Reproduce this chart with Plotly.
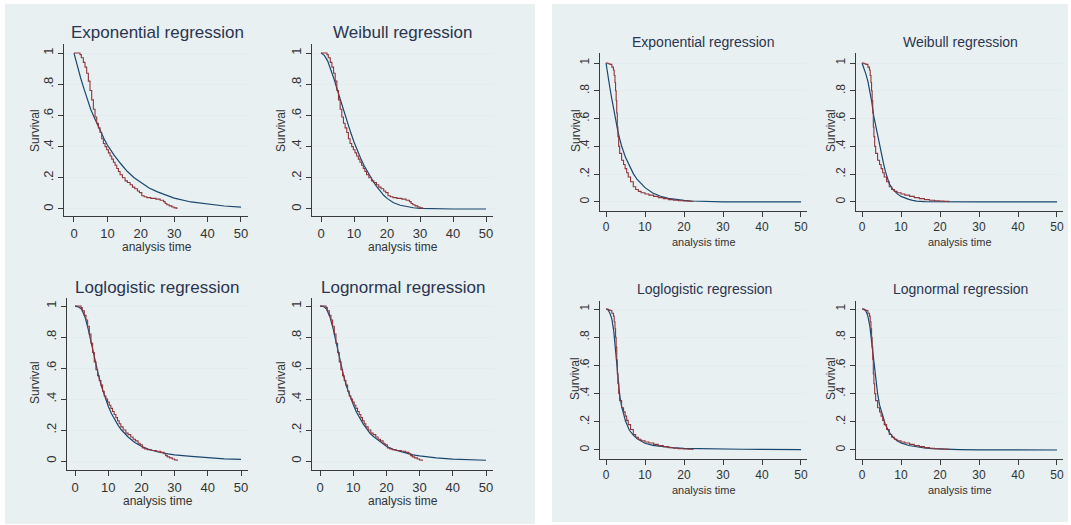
import plotly.graph_objects as go

W, H = 1071, 525

# Kaplan-Meier estimates (red step lines)
km_left_t = [0, 1.8, 2.2, 2.8, 3.3, 3.8, 4.3, 4.8, 5.3, 5.8, 6.3, 6.8, 7.3, 7.8, 8.3, 8.8,
             9.3, 9.8, 10.3, 10.8, 11.3, 11.8, 12.3, 12.8, 13.3, 13.8, 14.5, 15.3, 16.0,
             16.8, 17.5, 18.2, 19.0, 19.6, 20.3, 21.0, 21.8, 23.0, 24.5, 25.8, 26.8, 27.3,
             27.8, 28.5, 29.3, 30.0, 30.8]
km_left_s = [1.0, 0.99, 0.97, 0.94, 0.91, 0.87, 0.82, 0.76, 0.70, 0.64, 0.59, 0.55, 0.52,
             0.49, 0.45, 0.42, 0.40, 0.38, 0.36, 0.34, 0.32, 0.30, 0.28, 0.26, 0.24, 0.22,
             0.20, 0.18, 0.17, 0.155, 0.14, 0.13, 0.115, 0.105, 0.085, 0.078, 0.073, 0.068,
             0.063, 0.056, 0.047, 0.035, 0.027, 0.02, 0.013, 0.007, 0.0]

km_right_t = [0, 0.5, 1.0, 1.5, 1.9, 2.1, 2.3, 2.45, 2.6, 2.75, 2.9, 3.05, 3.25, 3.5, 4.0,
              4.5, 4.9, 5.3, 5.7, 6.3, 7.0, 7.6, 8.3, 9.0, 10.0, 11.0, 12.2, 13.4, 14.7,
              16.0, 17.3, 18.6, 19.9, 21.0, 22.3]
km_right_s = [1.0, 0.995, 0.99, 0.97, 0.95, 0.91, 0.86, 0.80, 0.73, 0.64, 0.54, 0.47, 0.40,
              0.35, 0.30, 0.27, 0.24, 0.21, 0.18, 0.145, 0.11, 0.09, 0.076, 0.066, 0.057,
              0.049, 0.04, 0.031, 0.024, 0.017, 0.012, 0.009, 0.007, 0.005, 0.0]

# Fitted survival curves (blue)
exp_left_t = [0, 1, 2, 3, 4, 5, 6, 7, 8, 9, 10, 12, 14, 16, 18, 20, 22.5, 25, 27.5, 30, 35, 40, 45, 50]
exp_left_s = [1, 0.915, 0.84, 0.77, 0.70, 0.64, 0.59, 0.54, 0.49, 0.45, 0.41, 0.345, 0.29,
              0.24, 0.20, 0.17, 0.135, 0.11, 0.088, 0.07, 0.045, 0.03, 0.019, 0.012]

wei_left_t = [0, 1, 2, 3, 4, 5, 6, 7, 8, 9, 10, 11, 12, 13, 14, 15, 16, 17, 18, 19, 20, 22,
              24, 26, 28, 30, 33, 36, 40, 50]
wei_left_s = [1, 0.985, 0.95, 0.895, 0.83, 0.76, 0.69, 0.62, 0.555, 0.49, 0.43, 0.375, 0.325,
              0.28, 0.24, 0.205, 0.17, 0.14, 0.113, 0.088, 0.068, 0.04, 0.024, 0.014, 0.008,
              0.004, 0.002, 0.001, 0, 0]

llog_left_t = [0, 1, 2, 3, 4, 5, 6, 7, 8, 9, 10, 11, 12, 13, 14, 15, 16, 18, 20, 22, 25, 28,
               30, 35, 40, 45, 50]
llog_left_s = [1, 0.995, 0.98, 0.93, 0.85, 0.75, 0.65, 0.56, 0.48, 0.41, 0.355, 0.305, 0.265,
               0.23, 0.20, 0.175, 0.155, 0.12, 0.095, 0.077, 0.058, 0.046, 0.04, 0.03, 0.021,
               0.014, 0.01]

lnorm_left_t = [0, 1, 2, 3, 4, 5, 6, 7, 8, 9, 10, 11, 12, 13, 14, 15, 16, 18, 20, 22, 25, 28,
                30, 35, 40, 45, 50]
lnorm_left_s = [1, 0.998, 0.98, 0.93, 0.85, 0.75, 0.65, 0.56, 0.48, 0.42, 0.365, 0.315, 0.275,
                0.24, 0.21, 0.18, 0.16, 0.125, 0.095, 0.075, 0.055, 0.04, 0.033, 0.02, 0.012,
                0.008, 0.005]

exp_right_t = [0, 0.5, 1, 1.5, 2, 2.5, 3, 3.5, 4, 5, 6, 7, 8, 9, 10, 12, 14, 16, 18, 20, 22,
               25, 30, 40, 50]
exp_right_s = [1, 0.90, 0.82, 0.74, 0.66, 0.585, 0.515, 0.455, 0.403, 0.321, 0.256, 0.204,
               0.162, 0.129, 0.103, 0.065, 0.041, 0.026, 0.017, 0.011, 0.007, 0.003, 0.001, 0, 0]

wei_right_t = [0, 0.5, 1, 1.5, 2, 2.5, 3, 3.5, 4, 4.5, 5, 5.5, 6, 7, 8, 9, 10, 11, 12, 13, 14,
               16, 20, 30, 50]
wei_right_s = [1, 0.965, 0.92, 0.87, 0.80, 0.72, 0.62, 0.55, 0.47, 0.40, 0.34, 0.28, 0.22,
               0.13, 0.088, 0.06, 0.04, 0.027, 0.019, 0.012, 0.006, 0.002, 0, 0, 0]

llog_right_t = [0, 0.5, 1, 1.5, 2, 2.5, 3, 3.5, 4, 4.5, 5, 6, 7, 8, 9, 10, 12, 14, 17, 20, 25,
                30, 35, 40, 50]
llog_right_s = [1, 0.995, 0.97, 0.93, 0.84, 0.70, 0.52, 0.39, 0.31, 0.25, 0.205, 0.14, 0.105,
                0.08, 0.062, 0.048, 0.033, 0.025, 0.017, 0.012, 0.008, 0.006, 0.005, 0.004, 0.003]

lnorm_right_t = [0, 0.5, 1, 1.5, 2, 2.5, 3, 3.5, 4, 4.5, 5, 6, 7, 8, 9, 10, 12, 14, 16, 18, 20,
                 25, 30, 40, 50]
lnorm_right_s = [1, 0.998, 0.985, 0.95, 0.88, 0.76, 0.60, 0.50, 0.40, 0.32, 0.27, 0.18, 0.125,
                 0.09, 0.066, 0.05, 0.032, 0.021, 0.014, 0.009, 0.006, 0.003, 0.001, 0, 0]

titles = ["Exponential regression", "Weibull regression",
          "Loglogistic regression", "Lognormal regression"] * 2
x_ticks = [0, 10, 20, 30, 40, 50]
y_ticks = [0, 0.2, 0.4, 0.6, 0.8, 1]
y_tick_text = ["0", ".2", ".4", ".6", ".8", "1"]

fits = [(exp_left_t, exp_left_s), (wei_left_t, wei_left_s), (llog_left_t, llog_left_s),
        (lnorm_left_t, lnorm_left_s), (exp_right_t, exp_right_s), (wei_right_t, wei_right_s),
        (llog_right_t, llog_right_s), (lnorm_right_t, lnorm_right_s)]

BLUE = "#1a476f"
RED = "#90353b"
BG = "#e8f0f2"
GRID = "#e3ecef"
TXT = "#2b3550"
FONT = "Liberation Sans, Arial, sans-serif"

# subplot boxes in pixels: x0, x1, ytop, ybottom, xrange, yrange, title pos, survival pos, xtitle pos
boxes = [
    (64, 248, 44, 216, [-2.99, 52.1], [-0.045, 1.058], (157, 33), (35, 131), (157, 247)),
    (312, 493, 44, 216, [-2.73, 52.12], [-0.045, 1.058], (403, 33), (281, 131), (403, 247)),
    (67, 248, 298, 470, [-2.41, 52.11], [-0.058, 1.052], (157, 287), (35, 383), (158, 501)),
    (312, 493, 298, 470, [-2.41, 52.11], [-0.058, 1.052], (403, 287), (281, 383), (403, 501)),
    (600, 807, 53, 211, [-1.54, 51.54], [-0.065, 1.072], (703, 42), (576, 131), (704, 242)),
    (856, 1063, 53, 211, [-1.54, 51.54], [-0.065, 1.072], (960, 42), (831, 131), (960, 242)),
    (600, 807, 301, 459, [-1.54, 51.54], [-0.064, 1.057], (704, 289), (575, 379), (704, 490)),
    (856, 1063, 301, 459, [-1.54, 51.54], [-0.064, 1.057], (960, 289), (831, 379), (960, 490)),
]

fig = go.Figure()
layout = {}
annotations = []

for i, box in enumerate(boxes):
    x0, x1, yt, yb, xr, yr, tpos, spos, apos = box
    left = i < 4
    sfx = "" if i == 0 else str(i + 1)
    km_t, km_s = (km_left_t, km_left_s) if left else (km_right_t, km_right_s)
    fit_t, fit_s = fits[i]
    tick_size = 13 if left else 12

    fig.add_trace(go.Scatter(x=fit_t, y=fit_s, mode="lines", line=dict(color=BLUE, width=1.2),
                             xaxis="x" + sfx, yaxis="y" + sfx, showlegend=False))
    fig.add_trace(go.Scatter(x=km_t, y=km_s, mode="lines", line=dict(color=RED, width=1.1, shape="hv"),
                             xaxis="x" + sfx, yaxis="y" + sfx, showlegend=False))

    layout["xaxis" + sfx] = dict(
        domain=[x0 / W, x1 / W], range=xr, anchor="y" + sfx, tickvals=x_ticks,
        showgrid=False, zeroline=False, showline=True, linecolor="#3a3a3a", linewidth=1,
        ticks="outside", ticklen=5, tickcolor="#3a3a3a",
        tickfont=dict(family=FONT, size=tick_size, color="#333333"))
    layout["yaxis" + sfx] = dict(
        domain=[1 - yb / H, 1 - yt / H], range=yr, anchor="x" + sfx, tickvals=y_ticks,
        ticktext=y_tick_text, tickangle=-90, showgrid=True, gridcolor=GRID, gridwidth=1,
        zeroline=False, showline=True, linecolor="#3a3a3a", linewidth=1,
        ticks="outside", ticklen=5, tickcolor="#3a3a3a",
        tickfont=dict(family=FONT, size=tick_size, color="#333333"))

    annotations.append(dict(text=titles[i], x=tpos[0] / W, y=1 - tpos[1] / H, xref="paper", yref="paper",
                            showarrow=False, xanchor="center", yanchor="middle",
                            font=dict(family=FONT, size=17 if left else 14, color=TXT)))
    annotations.append(dict(text="Survival", x=spos[0] / W, y=1 - spos[1] / H, xref="paper", yref="paper",
                            showarrow=False, textangle=-90, xanchor="center", yanchor="middle",
                            font=dict(family=FONT, size=12, color="#333333")))
    annotations.append(dict(text="analysis time", x=apos[0] / W, y=1 - apos[1] / H, xref="paper",
                            yref="paper", showarrow=False, xanchor="center", yanchor="middle",
                            font=dict(family=FONT, size=12 if left else 11, color="#333333")))

# grey-blue background panels behind the two graph groups
shapes = [
    dict(type="rect", xref="paper", yref="paper", x0=5 / W, x1=535 / W, y0=1 - 524 / H, y1=1 - 4 / H,
         fillcolor=BG, line=dict(width=0), layer="below"),
    dict(type="rect", xref="paper", yref="paper", x0=552 / W, x1=1068 / W, y0=1 - 522 / H, y1=1 - 4 / H,
         fillcolor=BG, line=dict(width=0), layer="below"),
]

fig.update_layout(width=W, height=H, margin=dict(l=0, r=0, t=0, b=0),
                  paper_bgcolor="white", plot_bgcolor="white",
                  annotations=annotations, shapes=shapes, **layout)

# drop the default page margin so the figure sits at the window's corner
fig.write_html("out.html", config={"displayModeBar": False},
               post_script="document.body.style.margin = '0px';")
